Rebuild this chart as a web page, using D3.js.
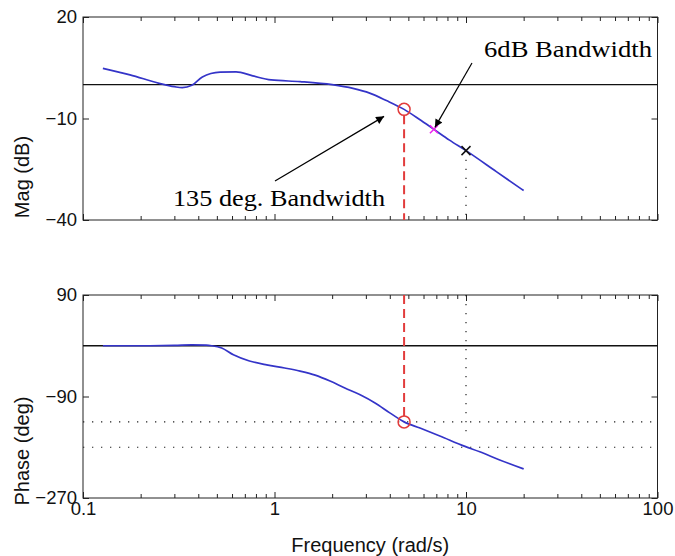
<!DOCTYPE html>
<html>
<head>
<meta charset="utf-8">
<script src="https://cdn.jsdelivr.net/npm/d3@7"></script>
<style>
  html, body { margin: 0; padding: 0; background: #fff; }
  svg { display: block; }
  .tick text { font-family: "Liberation Sans", Arial, Helvetica, sans-serif; font-size: 18.5px; fill: #111; }
  .tick line { stroke: #222; }
</style>
</head>
<body>
<svg id="chart" width="675" height="556"></svg>
<script>
// Closed-loop frequency response: magnitude (dB) and phase (deg) vs frequency (rad/s)
const magFreq = [0.127, 0.176, 0.25, 0.3, 0.33, 0.37, 0.42, 0.52, 0.63, 0.77, 0.96, 1.36, 2.0, 2.57, 3.14, 3.84, 4.75, 5.7, 6.8, 8.2, 10, 14.4, 20];
const magDb   = [4.8, 2.9, 0.4, -0.6, -0.9, -0.2, 2.3, 3.7, 3.8, 2.6, 1.4, 0.9, 0.0, -1.1, -2.5, -4.7, -7.3, -10.2, -13.2, -16.4, -19.5, -25.7, -31.3];

const phaseFreq = [0.127, 0.2, 0.3, 0.37, 0.44, 0.47, 0.53, 0.61, 0.74, 0.91, 1.13, 1.36, 1.63, 1.95, 2.33, 2.8, 3.35, 4.0, 4.75, 5.75, 7.3, 9.8, 11.8, 15, 20];
const phaseDeg  = [0, 0, 0.5, 1.5, 1, 0, -4, -16, -27, -34, -39.5, -45, -52, -62.5, -75, -87, -101.5, -119, -135, -146, -160, -178, -188, -202.5, -218.5];

// Bandwidth markers
const bw135 = { freq: 4.75, mag: -7.3, phase: -135 };
const bw6dB = { freq: 6.8, mag: -13.2 };
const w10   = { freq: 10, mag: -19.5, phaseEnd: -165 };

// Reference levels
const magRef = 0;
const phaseRef = 0;
const phaseGuides = [-135, -180];

// Axis ticks
const freqTicks = [0.1, 1, 10, 100];
const freqTickLabels = ["0.1", "1", "10", "100"];
const magTicks = [20, -10, -40];
const phaseTicks = [90, -90, -270];

const svg = d3.select("#chart");
const left = 83, right = 657.5;
const magTop = 17, magBottom = 220;
const phTop = 295, phBottom = 498;

const x = d3.scaleLog().domain([0.1, 100]).range([left, right]);
const yMag = d3.scaleLinear().domain([-40, 20]).range([magBottom, magTop]);
const yPh = d3.scaleLinear().domain([-270, 90]).range([phBottom, phTop]);

const minorTicks = [];
[0.1, 1, 10].forEach(d => { for (let k = 2; k <= 9; k++) minorTicks.push(d * k); });

const fmtMinus = v => String(v).replace("-", "\u2212");

// arrowhead marker
svg.append("defs").append("marker")
  .attr("id", "arrow")
  .attr("viewBox", "0 0 10 10")
  .attr("refX", 10).attr("refY", 5)
  .attr("markerWidth", 11).attr("markerHeight", 8)
  .attr("markerUnits", "userSpaceOnUse")
  .attr("orient", "auto")
  .append("path").attr("d", "M0,0 L10,5 L0,10 Z").attr("fill", "#000");

function drawPanel(y, top, bottom, yTicks, showXLabels) {
  const g = svg.append("g");
  // frame
  g.append("rect")
    .attr("x", left).attr("y", top)
    .attr("width", right - left).attr("height", bottom - top)
    .attr("fill", "none").attr("stroke", "#222").attr("stroke-width", 1);

  // x ticks, bottom edge (inward)
  const xb = g.append("g").attr("transform", `translate(0,${bottom})`)
    .call(d3.axisBottom(x).tickValues(freqTicks).tickSizeInner(-6).tickSizeOuter(0).tickPadding(3.5)
      .tickFormat((d, i) => showXLabels ? freqTickLabels[i] : ""));
  xb.select(".domain").remove();
  const xbm = g.append("g").attr("transform", `translate(0,${bottom})`)
    .call(d3.axisBottom(x).tickValues(minorTicks).tickSizeInner(-4).tickSizeOuter(0).tickFormat(""));
  xbm.select(".domain").remove();
  // x ticks, top edge (inward)
  const xt = g.append("g").attr("transform", `translate(0,${top})`)
    .call(d3.axisTop(x).tickValues(freqTicks).tickSizeInner(-6).tickSizeOuter(0).tickFormat(""));
  xt.select(".domain").remove();
  const xtm = g.append("g").attr("transform", `translate(0,${top})`)
    .call(d3.axisTop(x).tickValues(minorTicks).tickSizeInner(-4).tickSizeOuter(0).tickFormat(""));
  xtm.select(".domain").remove();

  // y ticks left (with labels) and right
  const yl = g.append("g").attr("transform", `translate(${left},0)`)
    .call(d3.axisLeft(y).tickValues(yTicks).tickSizeInner(-6).tickSizeOuter(0).tickPadding(6).tickFormat(fmtMinus));
  yl.select(".domain").remove();
  const yr = g.append("g").attr("transform", `translate(${right},0)`)
    .call(d3.axisRight(y).tickValues(yTicks).tickSizeInner(-6).tickSizeOuter(0).tickFormat(""));
  yr.select(".domain").remove();
  return g;
}

drawPanel(yMag, magTop, magBottom, magTicks, false);
drawPanel(yPh, phTop, phBottom, phaseTicks, true);

const dotted = "1.3,7.7";

// ---- magnitude panel ----
svg.append("line")
  .attr("x1", left).attr("x2", right)
  .attr("y1", yMag(magRef)).attr("y2", yMag(magRef))
  .attr("stroke", "#111").attr("stroke-width", 1.3);

// 135 deg bandwidth drop line
svg.append("line")
  .attr("x1", x(bw135.freq)).attr("x2", x(bw135.freq))
  .attr("y1", yMag(bw135.mag) + 6).attr("y2", yMag(-40))
  .attr("stroke", "#e23c3c").attr("stroke-width", 2).attr("stroke-dasharray", "9,5");

// 10 rad/s drop line
svg.append("line")
  .attr("x1", x(w10.freq)).attr("x2", x(w10.freq))
  .attr("y1", yMag(w10.mag)).attr("y2", yMag(-40))
  .attr("stroke", "#222").attr("stroke-width", 1.2).attr("stroke-dasharray", dotted);

const magLine = d3.line()
  .x((d, i) => x(magFreq[i]))
  .y(d => yMag(d))
  .curve(d3.curveMonotoneX);
svg.append("path").datum(magDb)
  .attr("d", magLine)
  .attr("fill", "none").attr("stroke", "#3434c8").attr("stroke-width", 1.7);

// markers
svg.append("circle")
  .attr("cx", x(bw135.freq)).attr("cy", yMag(bw135.mag)).attr("r", 6)
  .attr("fill", "none").attr("stroke", "#e23c3c").attr("stroke-width", 1.5);

function cross(cx, cy, s, color) {
  svg.append("path")
    .attr("d", `M${cx - s},${cy - s}L${cx + s},${cy + s}M${cx - s},${cy + s}L${cx + s},${cy - s}`)
    .attr("stroke", color).attr("stroke-width", 1.5).attr("fill", "none");
}
cross(x(bw6dB.freq), yMag(bw6dB.mag), 4, "#ee22ee");
cross(x(w10.freq), yMag(w10.mag), 4.5, "#111");

// annotations
const serif = '"Liberation Serif", "Times New Roman", Times, serif';
svg.append("text")
  .attr("x", 484).attr("y", 57)
  .attr("font-family", serif).attr("font-size", 23)
  .attr("textLength", 168).attr("lengthAdjust", "spacingAndGlyphs")
  .attr("fill", "#000")
  .text("6dB Bandwidth");
svg.append("line")
  .attr("x1", 472).attr("y1", 63)
  .attr("x2", x(bw6dB.freq) + 1).attr("y2", yMag(bw6dB.mag) - 2)
  .attr("stroke", "#000").attr("stroke-width", 1.2)
  .attr("marker-end", "url(#arrow)");

svg.append("text")
  .attr("x", 173).attr("y", 206)
  .attr("font-family", serif).attr("font-size", 23)
  .attr("textLength", 212).attr("lengthAdjust", "spacingAndGlyphs")
  .attr("fill", "#000")
  .text("135 deg. Bandwidth");
svg.append("line")
  .attr("x1", 275).attr("y1", 181)
  .attr("x2", x(bw135.freq) - 20).attr("y2", yMag(bw135.mag) + 7)
  .attr("stroke", "#000").attr("stroke-width", 1.2)
  .attr("marker-end", "url(#arrow)");

// ---- phase panel ----
svg.append("line")
  .attr("x1", left).attr("x2", right)
  .attr("y1", yPh(phaseRef)).attr("y2", yPh(phaseRef))
  .attr("stroke", "#111").attr("stroke-width", 1.3);

svg.selectAll(".guide").data(phaseGuides).enter().append("line")
  .attr("class", "guide")
  .attr("x1", left).attr("x2", right)
  .attr("y1", d => yPh(d)).attr("y2", d => yPh(d))
  .attr("stroke", "#222").attr("stroke-width", 1.2).attr("stroke-dasharray", dotted);

svg.append("line")
  .attr("x1", x(w10.freq)).attr("x2", x(w10.freq))
  .attr("y1", yPh(90)).attr("y2", yPh(w10.phaseEnd))
  .attr("stroke", "#222").attr("stroke-width", 1.2).attr("stroke-dasharray", dotted);

svg.append("line")
  .attr("x1", x(bw135.freq)).attr("x2", x(bw135.freq))
  .attr("y1", yPh(90)).attr("y2", yPh(bw135.phase) - 6)
  .attr("stroke", "#e23c3c").attr("stroke-width", 2).attr("stroke-dasharray", "9,5");

const phLine = d3.line()
  .x((d, i) => x(phaseFreq[i]))
  .y(d => yPh(d))
  .curve(d3.curveMonotoneX);
svg.append("path").datum(phaseDeg)
  .attr("d", phLine)
  .attr("fill", "none").attr("stroke", "#3434c8").attr("stroke-width", 1.7);

svg.append("circle")
  .attr("cx", x(bw135.freq)).attr("cy", yPh(bw135.phase)).attr("r", 6)
  .attr("fill", "none").attr("stroke", "#e23c3c").attr("stroke-width", 1.5);

// ---- axis titles ----
const sans = '"Liberation Sans", Arial, Helvetica, sans-serif';
svg.append("text")
  .attr("transform", "translate(29,177) rotate(-90)")
  .attr("text-anchor", "middle")
  .attr("font-family", sans).attr("font-size", 20).attr("fill", "#111")
  .text("Mag (dB)");
svg.append("text")
  .attr("transform", "translate(29,451) rotate(-90)")
  .attr("text-anchor", "middle")
  .attr("font-family", sans).attr("font-size", 20).attr("fill", "#111")
  .text("Phase (deg)");
svg.append("text")
  .attr("x", (left + right) / 2).attr("y", 552)
  .attr("text-anchor", "middle")
  .attr("font-family", sans).attr("font-size", 20).attr("fill", "#111")
  .text("Frequency (rad/s)");
</script>
</body>
</html>
